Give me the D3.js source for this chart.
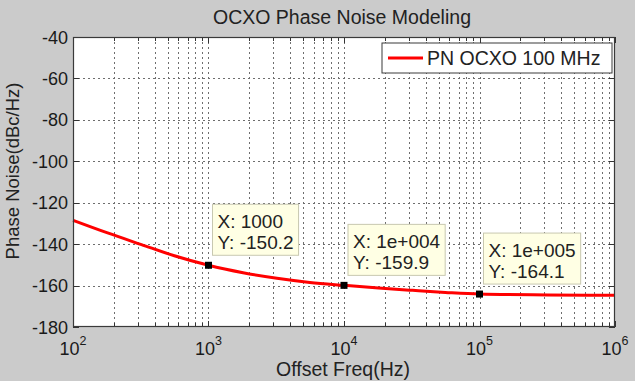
<!DOCTYPE html>
<html>
<head>
<meta charset="utf-8">
<script src="https://cdn.jsdelivr.net/npm/d3@7"></script>
<style>
  body { margin:0; background:#cbcbcb; }
  svg { display:block; font-family: "Liberation Sans", Arial, sans-serif; }
</style>
</head>
<body>
<div id="chart-area"></div>
<script>
// OCXO phase noise curve
var freqs = [100, 180, 320, 560, 1000, 1800, 3200, 5600, 10000, 18000, 32000, 56000, 100000, 320000, 1000000];
var noise = [-128.5, -134.6, -140.2, -145.6, -150.2, -153.8, -156.5, -158.5, -159.9, -161.2, -162.3, -163.3, -164.1, -164.5, -164.7];

// data tips
var tipX = [1000, 10000, 100000];
var tipY = [-150.2, -159.9, -164.1];
var tipXLabel = ["1000", "1e+004", "1e+005"];

var yTicks = [-40, -60, -80, -100, -120, -140, -160, -180];
var xDecades = [2, 3, 4, 5, 6];

var W = 635, H = 381;
var margin = { left:73, right:20, top:37, bottom:54 };
var width = W - margin.left - margin.right,
    height = H - margin.top - margin.bottom;

var svg = d3.select("#chart-area").append("svg")
    .attr("width", W).attr("height", H);

svg.append("rect").attr("width", W).attr("height", H).attr("fill", "#cbcbcb");

var g = svg.append("g")
    .attr("transform", "translate(" + margin.left + "," + margin.top + ")");

var x = d3.scaleLog().domain([1e2, 1e6]).range([0, width]);
var y = d3.scaleLinear().domain([-180, -40]).range([height, 0]);

g.append("rect").attr("width", width).attr("height", height).attr("fill", "#fff");

// minor + major log positions
var xGrid = [];
for (var d = 2; d < 6; d++) {
    for (var m = 1; m <= 9; m++) xGrid.push(m * Math.pow(10, d));
}
xGrid.push(1e6);

var grid = g.append("g").attr("stroke", "#6e6e6e").attr("stroke-width", 1)
    .attr("stroke-dasharray", "2,3");

grid.selectAll(".vx").data(xGrid.filter(v => v > 1e2 && v < 1e6)).join("line")
    .attr("x1", d => Math.round(x(d)) + 0.5).attr("x2", d => Math.round(x(d)) + 0.5)
    .attr("y1", 0).attr("y2", height);

grid.selectAll(".hy").data(yTicks.filter(v => v > -180 && v < -40)).join("line")
    .attr("y1", d => Math.round(y(d)) + 0.5).attr("y2", d => Math.round(y(d)) + 0.5)
    .attr("x1", 0).attr("x2", width);

// tick marks inside box (all four sides)
var ticks = g.append("g").attr("stroke", "#333").attr("stroke-width", 1);
xGrid.forEach(function(v) {
    var major = Math.abs(Math.log10(v) - Math.round(Math.log10(v))) < 1e-9;
    var len = major ? 6 : 4;
    var px = Math.round(x(v)) + 0.5;
    ticks.append("line").attr("x1", px).attr("x2", px).attr("y1", height).attr("y2", height - len);
    ticks.append("line").attr("x1", px).attr("x2", px).attr("y1", 0).attr("y2", len);
});
yTicks.forEach(function(v) {
    var py = Math.round(y(v)) + 0.5;
    ticks.append("line").attr("x1", 0).attr("x2", 6).attr("y1", py).attr("y2", py);
    ticks.append("line").attr("x1", width).attr("x2", width - 6).attr("y1", py).attr("y2", py);
});

// curve
var line = d3.line()
    .x((d, i) => x(freqs[i]))
    .y(d => y(d))
    .curve(d3.curveMonotoneX);

g.append("path").datum(noise)
    .attr("fill", "none").attr("stroke", "#ff0000").attr("stroke-width", 3)
    .attr("d", line);

g.append("rect").attr("x", 0.5).attr("y", 0.5).attr("width", width - 1).attr("height", height - 1)
    .attr("fill", "none").attr("stroke", "#3a3a3a").attr("stroke-width", 1.2);

// y tick labels
g.selectAll(".yl").data(yTicks).join("text")
    .attr("x", -5).attr("y", d => y(d) + 6.5)
    .attr("text-anchor", "end").attr("font-size", 18).attr("fill", "#1a1a1a")
    .text(d => d);

// x tick labels 10^n
var xl = g.selectAll(".xl").data(xDecades).join("text")
    .attr("x", d => x(Math.pow(10, d))).attr("y", height + 28)
    .attr("text-anchor", "middle").attr("font-size", 18).attr("fill", "#1a1a1a");
xl.append("tspan").text("10");
xl.append("tspan").attr("dy", -10).attr("font-size", 12.5).text(d => d);

// data tips
tipX.forEach(function(v, i) {
    var px = x(v), py = y(tipY[i]);
    g.append("rect").attr("x", px - 3.5).attr("y", py - 3.5).attr("width", 7).attr("height", 7)
        .attr("fill", "#000");
    var t1 = g.append("text").attr("font-size", 19).attr("fill", "#222").text("X: " + tipXLabel[i]);
    var t2 = g.append("text").attr("font-size", 19).attr("fill", "#222").text("Y: " + tipY[i]);
    var bw = Math.max(t1.node().getComputedTextLength(), t2.node().getComputedTextLength()) + 10;
    var bh = 51, bx = px + 4, by = py - 10 - bh;
    g.insert("rect", function() { return t1.node(); })
        .attr("x", bx).attr("y", by).attr("width", bw).attr("height", bh)
        .attr("fill", "#ffffe4").attr("stroke", "#c8c8b0").attr("stroke-width", 1);
    t1.attr("x", bx + 5).attr("y", by + 24);
    t2.attr("x", bx + 5).attr("y", by + 45);
});

// legend
var lg = g.append("g").attr("transform", "translate(" + (width - 233) + ",6)");
lg.append("rect").attr("width", 230).attr("height", 30).attr("fill", "#fff")
    .attr("stroke", "#3a3a3a").attr("stroke-width", 1);
lg.append("line").attr("x1", 6).attr("x2", 41).attr("y1", 15).attr("y2", 15)
    .attr("stroke", "#ff0000").attr("stroke-width", 3);
lg.append("text").attr("x", 45).attr("y", 22).attr("font-size", 19.5).attr("fill", "#222")
    .text("PN OCXO 100 MHz");

// title & axis labels
svg.append("text").attr("x", 342).attr("y", 24)
    .attr("text-anchor", "middle").attr("font-size", 19.5).attr("fill", "#222")
    .text("OCXO Phase Noise Modeling");
svg.append("text").attr("x", 343).attr("y", 376)
    .attr("text-anchor", "middle").attr("font-size", 19.5).attr("fill", "#222")
    .text("Offset Freq(Hz)");
svg.append("text").attr("transform", "translate(19,171) rotate(-90)")
    .attr("text-anchor", "middle").attr("font-size", 18.5).attr("fill", "#222")
    .text("Phase Noise(dBc/Hz)");
</script>
</body>
</html>
